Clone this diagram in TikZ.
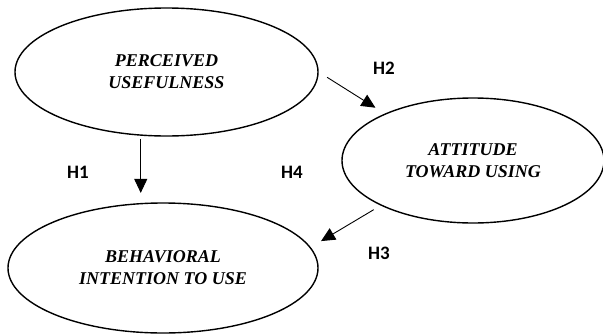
\documentclass[tikz,border=0pt]{standalone}
\usepackage{fontspec}
\setmainfont{Liberation Serif}
\newfontfamily\tnrfont{Liberation Serif}
\newfontfamily\lblfont{Carlito}
\usetikzlibrary{arrows.meta,shapes.geometric}
\begin{document}
\begin{tikzpicture}[x=1pt,y=-1pt,
  construct/.style={ellipse,draw,line width=1.4pt,inner sep=0pt,align=center,
    font=\tnrfont\fontsize{18}{22}\selectfont\bfseries\itshape},
  arr/.style={line width=0.9pt,-{Triangle[length=14pt,width=13pt]}},
  hlabel/.style={font=\lblfont\fontsize{19}{22}\selectfont\bfseries}]
\useasboundingbox (0,0) rectangle (603,335);
\node[construct,minimum width=303pt,minimum height=128pt] (PU) at (166.5,72) {PERCEIVED\\USEFULNESS};
\node[construct,minimum width=262pt,minimum height=125pt] (ATU) at (473,160.5) {ATTITUDE\\TOWARD USING};
\node[construct,minimum width=310pt,minimum height=130pt] (BIU) at (163,268) {BEHAVIORAL\\INTENTION TO USE};
\draw[arr,shorten <=3pt,shorten >=10pt] (PU.248) -- (BIU.108 -| PU.248);
\draw[arr,shorten <=10pt,shorten >=11pt] (PU.0) -- (ATU.152);
\draw[arr,shorten <=8pt,shorten >=12pt] (ATU.206) -- (BIU.8);
\node[hlabel] (h1) at (78,172) {H1};
\node[hlabel] (h4) at (292,172) {H4};
\node[hlabel] (h2) at (384,68) {H2};
\node[hlabel] (h3) at (379,253) {H3};
\end{tikzpicture}
\end{document}
